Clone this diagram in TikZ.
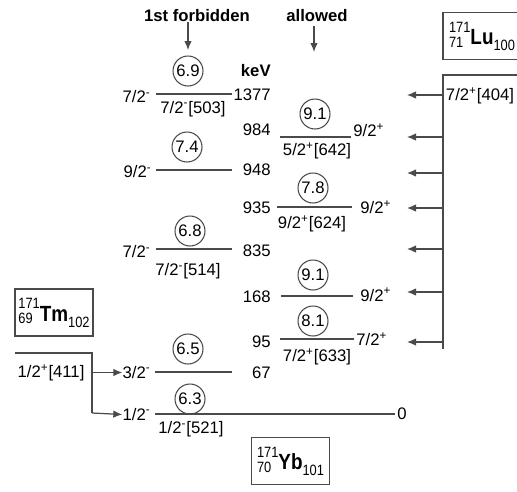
\documentclass[tikz,border=0pt]{standalone}
\usepackage{fontspec}
\setmainfont{Liberation Sans}
\usetikzlibrary{arrows.meta,positioning}
\definecolor{LevelGray}{HTML}{4A4A4A}

\newcommand{\nucsc}{\fontsize{8.5}{9}\selectfont}
\newcommand{\nucl}[4]{\scalebox{0.86}[1]{%
  \raisebox{-1.5pt}{\begin{tabular}[b]{@{}l@{}}\nucsc #1\\[-2.5pt]\nucsc #2\end{tabular}}%
  {\fontsize{12.5}{13}\selectfont\bfseries #3}%
  \raisebox{-3.5pt}{\nucsc #4}}}

\begin{document}
\begin{tikzpicture}[
    x=0.02cm, y=-0.02cm,
    font=\fontsize{9.5}{11}\selectfont,
    lab/.style={inner sep=0pt, text height=6.8pt, text depth=0pt},
    heading/.style={lab, font=\fontsize{9.5}{11}\selectfont\bfseries},
    orb/.style={lab, circle, draw=LevelGray, line width=0.6pt, minimum size=0.6cm},
    lvl/.style={draw=LevelGray, line width=0.7pt},
    feed/.style={draw=LevelGray, line width=0.7pt, -{Latex[length=1.8mm,width=1.5mm]}},
    nucbox/.style={draw=LevelGray, line width=0.6pt, minimum width=1.56cm,
      minimum height=0.94cm, inner sep=1pt}
  ]
  \useasboundingbox (0,0) rectangle (517,491);

  % headings
  \node[heading] (forb) at (197,16) {1st forbidden};
  \node[heading] (allw) at (317,16) {allowed};
  \coordinate (forbtip) at (188,50);
  \coordinate (allwtip) at (314,52);
  \draw[feed] (forb.south -| forbtip) -- (forbtip);
  \draw[feed] ([yshift=-2pt]allw.south -| allwtip) -- (allwtip);
  \node[heading, anchor=east] (kev) at (271,71) {keV};

  % 1st forbidden levels
  \coordinate (f1377l) at (156,94); \coordinate (f1377r) at (232,94);
  \draw[lvl] (f1377l) -- (f1377r);
  \node[lab, anchor=east] (s1377) at (151,97) {7/2\textsuperscript{-}};
  \node[lab, anchor=east] (e1377) at (271,94.5) {1377};
  \node[lab] (n503) at (193,107.5) {7/2\textsuperscript{-}[503]};
  \node[orb] (ft1377) at (188,71) {6.9};

  \coordinate (f948l) at (156,170); \coordinate (f948r) at (232,170);
  \draw[lvl] (f948l) -- (f948r);
  \node[lab, anchor=east] (s948) at (152,172) {9/2\textsuperscript{-}};
  \node[lab, anchor=east] (e948) at (271,169.5) {948};
  \node[orb] (ft948) at (187,147) {7.4};

  \coordinate (f835l) at (156,249); \coordinate (f835r) at (232,249);
  \draw[lvl] (f835l) -- (f835r);
  \node[lab, anchor=east] (s835) at (151,252) {7/2\textsuperscript{-}};
  \node[lab, anchor=east] (e835) at (271,250.5) {835};
  \node[lab] (n514) at (188,270) {7/2\textsuperscript{-}[514]};
  \node[orb] (ft835) at (190,231) {6.8};

  \coordinate (f67l) at (155,372); \coordinate (f67r) at (232,372);
  \draw[lvl] (f67l) -- (f67r);
  \node[lab, anchor=east] (s67) at (151,372.5) {3/2\textsuperscript{-}};
  \node[lab, anchor=east] (e67) at (271,373) {67};
  \node[orb] (ft67) at (188,349) {6.5};

  % ground state
  \coordinate (g0l) at (155,414); \coordinate (g0r) at (395,414);
  \draw[lvl] (g0l) -- (g0r);
  \node[lab, anchor=west] (e0) at (397,414) {0};
  \node[lab, anchor=east] (s0) at (151,414.5) {1/2\textsuperscript{-}};
  \node[lab] (n521) at (191,428) {1/2\textsuperscript{-}[521]};
  \node[orb] (ft0) at (190,399) {6.3};

  % allowed levels
  \coordinate (a984l) at (280,137); \coordinate (a984r) at (351,137);
  \draw[lvl] (a984l) -- (a984r);
  \node[lab, anchor=east] (e984) at (271,130) {984};
  \node[lab, anchor=west] (s984) at (353,131) {9/2\textsuperscript{+}};
  \node[lab] (n642) at (317,150) {5/2\textsuperscript{+}[642]};
  \node[orb] (ft984) at (315,114) {9.1};

  \coordinate (a935l) at (277,207); \coordinate (a935r) at (352,207);
  \draw[lvl] (a935l) -- (a935r);
  \node[lab, anchor=east] (e935) at (271,208) {935};
  \node[lab, anchor=west] (s935) at (360,208) {9/2\textsuperscript{+}};
  \node[lab] (n624) at (312,223) {9/2\textsuperscript{+}[624]};
  \node[orb] (ft935) at (313,188) {7.8};

  \coordinate (a168l) at (281,296); \coordinate (a168r) at (353,296);
  \draw[lvl] (a168l) -- (a168r);
  \node[lab, anchor=east] (e168) at (271,296.5) {168};
  \node[lab, anchor=west] (s168) at (360,295.5) {9/2\textsuperscript{+}};
  \node[orb] (ft168) at (313,275) {9.1};

  \coordinate (a95l) at (280,339); \coordinate (a95r) at (354,339);
  \draw[lvl] (a95l) -- (a95r);
  \node[lab, anchor=east] (e95) at (271,341.5) {95};
  \node[lab, anchor=west] (s95) at (356,340) {7/2\textsuperscript{+}};
  \node[lab] (n633) at (317,356) {7/2\textsuperscript{+}[633]};
  \node[orb] (ft95) at (313,321) {8.1};

  % 171Tm parent
  \node[nucbox] (tm) at (54,312.5) {\nucl{171}{69}{Tm}{102}};
  \coordinate (tml) at (15,353); \coordinate (tmc) at (92,353);
  \coordinate (tmb) at (92,413);
  \draw[lvl] (tml) -- (tmc) -- (tmb);
  \node[lab] (n411) at (51,372) {1/2\textsuperscript{+}[411]};
  \draw[feed] (tmc |- s67) -- (s67.west);
  \draw[feed] (tmb) -- (s0.west);

  % 171Lu parent
  \node[nucbox] (lu) at (482,36) {\nucl{171}{71}{Lu}{100}};
  \coordinate (lur) at (517,75); \coordinate (luc) at (443,75);
  \coordinate (lub) at (443,349);
  \draw[lvl] (lur) -- (luc) -- (lub);
  \node[lab] (n404) at (480,95) {7/2\textsuperscript{+}[404]};
  \foreach \y/\n in {95/a,137/b,173/c,208/d,249/e,292/f,342/g} {
    \coordinate (lu\n) at (443,\y);
    \coordinate (in\n) at (407,\y);
    \draw[feed] (lu\n) -- (in\n);
  }

  % 171Yb daughter
  \node[nucbox] (yb) at (290.5,461) {\nucl{171}{70}{Yb}{101}};
\end{tikzpicture}
\end{document}
